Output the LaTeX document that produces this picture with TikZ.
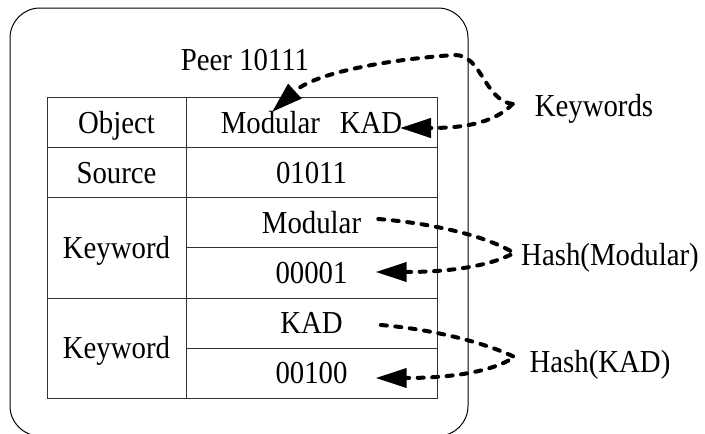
\documentclass[tikz,border=0pt]{standalone}
\usepackage{fontspec}
\setmainfont{Liberation Serif}[FakeStretch=0.9]
\usetikzlibrary{arrows.meta,calc}

\begin{document}
\begin{tikzpicture}[x=1pt,y=-1pt,
  lbl/.style={anchor=base,inner sep=0pt,font=\fontsize{32}{38}\selectfont},
  gridline/.style={line width=1pt,draw=black!80},
  dashlink/.style={line width=4pt,dash pattern=on 6pt off 8.5pt,line cap=round},
  tipped/.style={-{Triangle[length=31pt,width=19pt]}}
]
\useasboundingbox (0,0) rectangle (705,434);
\clip (0,0) rectangle (705,434);

% peer frame
\draw[line width=1pt,rounded corners=30pt] (10,8) rectangle (468,436);

% table grid
\draw[gridline] (47,97) rectangle (437,398);
\draw[gridline] (186,97) -- (186,398);
\draw[gridline] (47,147) -- (437,147);
\draw[gridline] (47,197) -- (437,197);
\draw[gridline] (47,298) -- (437,298);
\draw[gridline] (186,247) -- (437,247);
\draw[gridline] (186,348) -- (437,348);

% texts
\node[lbl] (peer) at (245,70) {Peer 10111};
\node[lbl] (objk) at (116.5,133) {Object};
\node[lbl] (objv) at (311.5,133) {Modular\hspace{0.62em}KAD};
\node[lbl] (srck) at (116.5,183) {Source};
\node[lbl] (srcv) at (311.5,183) {01011};
\node[lbl] (kwa) at (116.5,258) {Keyword};
\node[lbl] (kwa1) at (311.5,233) {Modular};
\node[lbl] (kwa2) at (311.5,283) {00001};
\node[lbl] (kwb) at (116.5,358) {Keyword};
\node[lbl] (kwb1) at (311.5,333) {KAD};
\node[lbl] (kwb2) at (311.5,383) {00100};
\node[lbl] (keywords) at (594,116) {Keywords};
\node[lbl] (hmod) at (610,265) {Hash(Modular)};
\node[lbl] (hkad) at (600,372) {Hash(KAD)};

% connector ends
\coordinate (kwv) at ($(keywords.base west)+(-22,-12)$);
\coordinate (modtip) at (272,112);
\coordinate (kadtip) at (400,128);
\coordinate (hmv) at ($(hmod.base west)+(-7,-12)$);
\coordinate (hms) at ($(kwa1.base east)+(17,-14)$);
\coordinate (hmt) at ($(kwa2.base east)+(28,-11)$);
\coordinate (hkv) at ($(hkad.base west)+(-15,-15)$);
\coordinate (hks) at ($(kwb1.base east)+(38,-8)$);
\coordinate (hkt) at ($(kwb2.base east)+(28,-5)$);

% keyword links
\draw[dashlink,tipped] (kwv) .. controls (484,100) and (482,55) .. (455,55)
  .. controls (405,58) and (318,70) .. (modtip);
\draw[dashlink,tipped] (kwv) .. controls (496,121) and (470,128) .. (kadtip);

% hash links
\draw[dashlink,tipped] (hms) .. controls (440,224) and (490,238) .. (hmv)
  .. controls (490,266) and (450,272) .. (hmt);
\draw[dashlink,tipped] (hks) .. controls (440,330) and (490,345) .. (hkv)
  .. controls (492,372) and (450,378) .. (hkt);
\end{tikzpicture}
\end{document}
